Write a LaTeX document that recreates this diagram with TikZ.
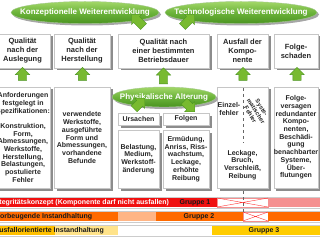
\documentclass[tikz,border=0pt]{standalone}
\usepackage{fontspec}
\setmainfont{Liberation Sans}
\usetikzlibrary{shapes.geometric,shapes.arrows,shadows}

\definecolor{gruenhell}{HTML}{A2D768}
\definecolor{gruenmitte}{HTML}{6CB33A}
\definecolor{gruendunkel}{HTML}{4A9420}
\definecolor{pfeilgruen}{HTML}{78BA30}
\definecolor{balkenrot}{HTML}{F01010}
\definecolor{balkenrosa}{HTML}{F59090}
\definecolor{balkenorange}{HTML}{FF6A00}
\definecolor{balkenpfirsich}{HTML}{FFB585}
\definecolor{balkenbernstein}{HTML}{FFC000}
\definecolor{balkenhellgelb}{HTML}{FFE38A}
\definecolor{balkengold}{HTML}{FFCC00}

\tikzset{
  kasten/.style={draw=gray!45, fill=white, align=center, inner sep=0pt,
    drop shadow={shadow xshift=2.5pt, shadow yshift=-2.5pt, fill=black!45, opacity=1},
    font=\bfseries\fontsize{7.5}{9}\selectfont, text=black!85},
  klein/.style={align=center, inner sep=0pt, font=\bfseries\fontsize{7}{7.7}\selectfont, text=black!85},
  oval/.style={ellipse, draw=gruendunkel!50, top color=gruenhell, bottom color=gruendunkel, middle color=gruenmitte,
    drop shadow={shadow xshift=2pt, shadow yshift=-2pt, fill=black!35, opacity=1},
    inner xsep=-16pt, inner ysep=0pt, text=white, font=\bfseries\fontsize{8}{9}\selectfont},
  gpfeil/.style={single arrow, fill=pfeilgruen, draw=gruendunkel, line width=0.4pt,
    minimum height=13pt, minimum width=14pt, single arrow head extend=3pt,
    inner xsep=0pt, inner ysep=4pt},
  balkentext/.style={inner sep=0pt, font=\bfseries\fontsize{7}{8}\selectfont, text=black!90},
  kreuz/.style={draw=balkenrosa, fill=white, line width=0.4pt}
}

\begin{document}
\begin{tikzpicture}[x=1pt, y=-1pt]
    \useasboundingbox (0,0) rectangle (320,240);
    \clip (0,0) rectangle (320,240);

    % Ellipsen oben
    \node[oval, minimum width=148pt, minimum height=22pt] (konz) at (85,12.5) {Konzeptionelle Weiterentwicklung};
    \node[oval, minimum width=152pt, minimum height=22pt] (techn) at (241,12.5) {Technologische Weiterentwicklung};

    % obere Kaesten
    \node[kasten, minimum width=55pt, minimum height=34pt] (qausl) at (22.5,51) {Qualität\\nach der\\Auslegung};
    \node[kasten, minimum width=56pt, minimum height=34pt] (qherst) at (82,51) {Qualität\\nach der\\Herstellung};
    \node[kasten, minimum width=91pt, minimum height=34pt] (qbetr) at (163.5,51) {Qualität nach\\einer bestimmten\\Betriebsdauer};
    \node[kasten, minimum width=51pt, minimum height=34pt] (ausfall) at (242.5,51) {Ausfall der\\Kompo-\\nente};
    \node[kasten, minimum width=44pt, minimum height=34pt] (folgesch) at (296,51) {Folge-\\schaden};

    % untere Kaesten
    \node[kasten, klein, minimum width=55pt, minimum height=101pt] (anford) at (23,137.5)
      {Anforderungen\\festgelegt in\\Spezifikationen:\\[7.7pt]Konstruktion,\\Form,\\Abmessungen,\\Werkstoffe,\\Herstellung,\\Belastungen,\\postulierte\\Fehler};
    \node[kasten, klein, minimum width=56pt, minimum height=101pt] (befund) at (82,137.5)
      {verwendete\\Werkstoffe,\\ausgeführte\\Form und\\Abmessungen,\\vorhandene\\Befunde};
    \node[kasten, klein, minimum width=41pt, minimum height=12pt] (ursachen) at (138.5,119) {Ursachen};
    \node[kasten, klein, minimum width=46pt, minimum height=12pt] (folgen) at (186,119) {Folgen};
    \node[kasten, klein, minimum width=41pt, minimum height=58pt] (belast) at (138.5,159) {Belastung,\\Medium,\\Werkstoff-\\änderung};
    \node[kasten, klein, minimum width=46pt, minimum height=58pt] (ermued) at (186,159) {Ermüdung,\\Anriss, Riss-\\wachstum,\\Leckage,\\erhöhte\\Reibung};
    \node[kasten, minimum width=51pt, minimum height=101pt] (ausfallbox) at (242.5,137.5) {};
    \node[kasten, klein, minimum width=44pt, minimum height=101pt] (folgevers) at (296,137.5)
      {Folge-\\versagen\\redundanter\\Kompo-\\nenten,\\Beschädi-\\gung\\benachbarter\\Systeme,\\Über-\\flutungen};

    % Fehlerarten im Kasten Ausfall
    \draw[dashed, black!60] (243,88) -- (243,143);
    \node[klein] (einzel) at (229,109) {Einzel-\\fehler};
    \node[klein, font=\bfseries\fontsize{6}{6.6}\selectfont, rotate=-58] (system) at (256,111) {Syste-\\matischer\\Fehler};
    \node[klein] (leckage) at (242.5,165) {Leckage,\\Bruch,\\Verschleiß,\\Reibung};

    % Ellipse Alterung
    \node[oval, inner xsep=-10pt, minimum width=104pt, minimum height=20pt] (alterung) at (164,97) {Physikalische Alterung};

    % gruene Pfeile nach oben
    \node[gpfeil, rotate=90] (pA) at (22.5,76) {};
    \node[gpfeil, rotate=90] (pB) at (82.5,76) {};
    \node[gpfeil, rotate=90, minimum height=16pt] (pC) at (163.5,78) {};
    \node[gpfeil, rotate=90] (pD) at (243,76) {};
    \node[gpfeil, rotate=90] (pE) at (297,76) {};

    % schraege Pfeile
    \node[gpfeil, rotate=135, minimum height=17pt] (pK) at (139,22) {};
    \node[gpfeil, rotate=45, minimum height=17pt] (pT) at (187,22) {};
    \node[gpfeil, rotate=45, minimum height=15pt] (pU) at (138,105) {};
    \node[gpfeil, rotate=-45, minimum height=15pt] (pF) at (188,105) {};

    % Balken unten: Rahmen
    \foreach \y in {197,211,225}
      \draw[gray!40, fill=white] (-2,\y) rectangle (322,\y+11);

    % Gruppe 1
    \fill[balkenrot] (-2,198) rectangle (217,207);
    \draw[kreuz] (217,198) rectangle (268,207);
    \draw[red!80, line width=0.4pt] (217,198) -- (268,207) (217,207) -- (268,198);
    \fill[balkenrosa] (268,198) rectangle (322,207);
    \node[balkentext, anchor=west, text=white] (integ) at (-7,202.5) {Integritätskonzept (Komponente darf nicht ausfallen)};
    \node[balkentext] (gr1) at (195,202.5) {Gruppe 1};

    % Gruppe 2
    \fill[balkenorange] (-2,212) rectangle (118,221);
    \fill[balkenpfirsich] (118,212) rectangle (156,221);
    \fill[balkenorange] (156,212) rectangle (243,221);
    \draw[kreuz] (243,212) rectangle (268,221);
    \draw[red!80, line width=0.4pt] (243,212) -- (268,221) (243,221) -- (268,212);
    \fill[balkenorange] (268,212) rectangle (322,221);
    \node[balkentext, anchor=west] (vorb) at (-4,216.5) {vorbeugende Instandhaltung};
    \node[balkentext] (gr2) at (199,216.5) {Gruppe 2};

    % Gruppe 3
    \fill[balkenbernstein] (-2,226) rectangle (55,235);
    \fill[balkenhellgelb] (55,226) rectangle (118,235);
    \fill[balkengold] (212,226) rectangle (322,235);
    \node[balkentext, anchor=west] (ausfo) at (-6,230.5) {Ausfallorientierte Instandhaltung};
    \node[balkentext] (gr3) at (264,230.5) {Gruppe 3};

    % Trennlinie zwischen den Fehlerarten
    \draw[dashed, black!60] (243,191) -- (243,212);
\end{tikzpicture}
\end{document}
